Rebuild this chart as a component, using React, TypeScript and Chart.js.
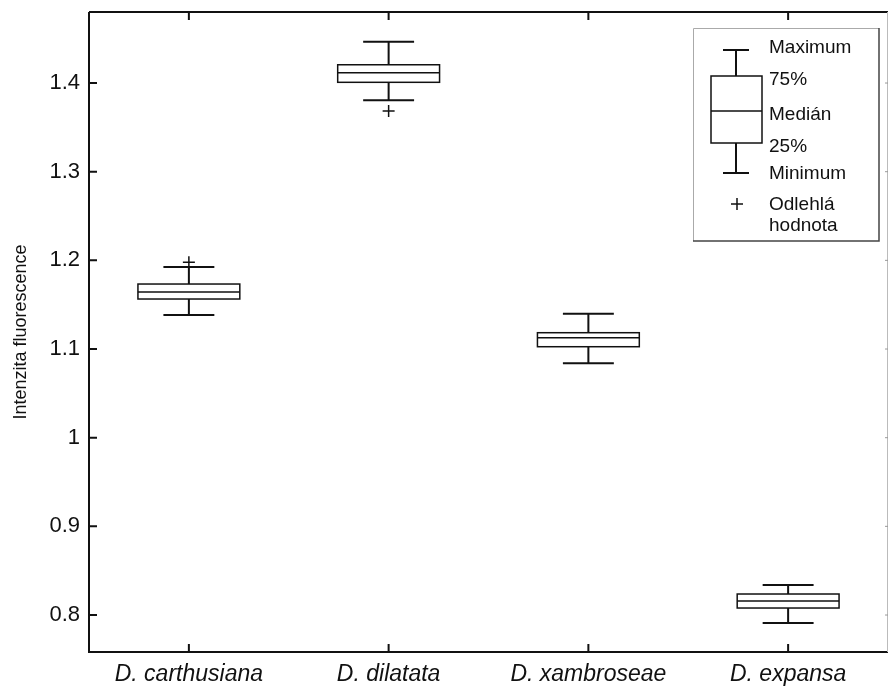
import { useEffect, useRef } from "react";
import { Chart, registerables } from "chart.js";

Chart.register(...registerables);

const categories = ["D. carthusiana", "D. dilatata", "D. xambroseae", "D. expansa"];
const whiskerMax = [1.1925, 1.4466, 1.1398, 0.8339];
const q3 = [1.1733, 1.4206, 1.1184, 0.8237];
const medians = [1.1643, 1.4116, 1.1128, 0.8158];
const q1 = [1.1564, 1.4008, 1.1026, 0.8079];
const whiskerMin = [1.1384, 1.3805, 1.0839, 0.791];
const outlierCategory = [1, 2];
const outlierValues = [1.198, 1.3684];
const yTickValues = [0.8, 0.9, 1.0, 1.1, 1.2, 1.3, 1.4];
const yTickLabels = ["0.8", "0.9", "1", "1.1", "1.2", "1.3", "1.4"];
const legendLabels = ["Maximum", "75%", "Medián", "25%", "Minimum", "Odlehlá", "hodnota"];
const yAxisTitle = "Intenzita fluorescence";

const FONT = "'Liberation Sans', Arial, Helvetica, sans-serif";
const INK = "#111";

const boxPlugin = {
  id: "boxes",
  beforeDatasetsDraw(chart: any) {
    const { ctx, scales } = chart;
    const x = scales.x;
    const y = scales.y;
    ctx.save();
    ctx.strokeStyle = INK;
    ctx.lineCap = "butt";
    categories.forEach((_, i) => {
      const v = i + 1;
      const cx = x.getPixelForValue(v);
      const bl = x.getPixelForValue(v - 0.255);
      const br = x.getPixelForValue(v + 0.255);
      const cl = x.getPixelForValue(v - 0.1275);
      const cr = x.getPixelForValue(v + 0.1275);
      const yMax = y.getPixelForValue(whiskerMax[i]);
      const yQ3 = y.getPixelForValue(q3[i]);
      const yMed = y.getPixelForValue(medians[i]);
      const yQ1 = y.getPixelForValue(q1[i]);
      const yMin = y.getPixelForValue(whiskerMin[i]);
      ctx.lineWidth = 2;
      ctx.beginPath();
      ctx.moveTo(cx, yMax);
      ctx.lineTo(cx, yQ3);
      ctx.moveTo(cx, yQ1);
      ctx.lineTo(cx, yMin);
      ctx.moveTo(cl, yMax);
      ctx.lineTo(cr, yMax);
      ctx.moveTo(cl, yMin);
      ctx.lineTo(cr, yMin);
      ctx.stroke();
      ctx.lineWidth = 1.5;
      ctx.fillStyle = "#fff";
      ctx.fillRect(bl, yQ3, br - bl, yQ1 - yQ3);
      ctx.strokeRect(bl, yQ3, br - bl, yQ1 - yQ3);
      ctx.beginPath();
      ctx.moveTo(bl, yMed);
      ctx.lineTo(br, yMed);
      ctx.stroke();
    });
    ctx.restore();
  },
  afterDraw(chart: any) {
    const { ctx, chartArea, scales } = chart;
    const { left, right, top, bottom } = chartArea;
    const x = scales.x;
    const y = scales.y;
    ctx.save();
    // frame
    ctx.strokeStyle = INK;
    ctx.lineWidth = 2;
    ctx.beginPath();
    ctx.moveTo(left, top);
    ctx.lineTo(left, bottom);
    ctx.lineTo(right, bottom);
    ctx.moveTo(left, top);
    ctx.lineTo(right, top);
    ctx.stroke();
    ctx.strokeStyle = "#bbb";
    ctx.lineWidth = 1;
    ctx.beginPath();
    ctx.moveTo(right - 0.5, top);
    ctx.lineTo(right - 0.5, bottom);
    ctx.stroke();
    // inward ticks
    ctx.strokeStyle = INK;
    ctx.lineWidth = 2;
    ctx.beginPath();
    y.ticks.forEach((t: any) => {
      const py = y.getPixelForValue(t.value);
      ctx.moveTo(left, py);
      ctx.lineTo(left + 8, py);
    });
    x.ticks.forEach((t: any) => {
      const px = x.getPixelForValue(t.value);
      ctx.moveTo(px, bottom);
      ctx.lineTo(px, bottom - 8);
      ctx.moveTo(px, top);
      ctx.lineTo(px, top + 8);
    });
    ctx.stroke();
    ctx.strokeStyle = "#999";
    ctx.lineWidth = 1;
    ctx.beginPath();
    y.ticks.forEach((t: any) => {
      const py = y.getPixelForValue(t.value);
      ctx.moveTo(right, py);
      ctx.lineTo(right - 3, py);
    });
    ctx.stroke();

    // legend
    const lx0 = 693, lx1 = 879, ly0 = 28, ly1 = 241;
    ctx.strokeStyle = "#aaa";
    ctx.lineWidth = 1;
    ctx.beginPath();
    ctx.moveTo(lx0 + 0.5, ly1);
    ctx.lineTo(lx0 + 0.5, ly0 + 0.5);
    ctx.lineTo(lx1, ly0 + 0.5);
    ctx.stroke();
    ctx.strokeStyle = "#444";
    ctx.lineWidth = 1.5;
    ctx.beginPath();
    ctx.moveTo(lx1, ly0);
    ctx.lineTo(lx1, ly1);
    ctx.lineTo(lx0, ly1);
    ctx.stroke();

    ctx.strokeStyle = INK;
    ctx.lineWidth = 2;
    ctx.beginPath();
    ctx.moveTo(736, 50);
    ctx.lineTo(736, 76);
    ctx.moveTo(736, 143);
    ctx.lineTo(736, 173);
    ctx.moveTo(723, 50);
    ctx.lineTo(749, 50);
    ctx.moveTo(723, 173);
    ctx.lineTo(749, 173);
    ctx.stroke();
    ctx.lineWidth = 1.5;
    ctx.strokeRect(711, 76, 51, 67);
    ctx.beginPath();
    ctx.moveTo(711, 111);
    ctx.lineTo(762, 111);
    // plus
    ctx.moveTo(731, 204);
    ctx.lineTo(743, 204);
    ctx.moveTo(737, 198);
    ctx.lineTo(737, 210);
    ctx.stroke();

    ctx.fillStyle = INK;
    ctx.font = `19px ${FONT}`;
    ctx.textAlign = "left";
    ctx.textBaseline = "middle";
    const ys = [48, 80, 115, 147, 174, 205, 226];
    legendLabels.forEach((s, i) => ctx.fillText(s, 769, ys[i]));
    ctx.restore();
  },
};

export default function App() {
  const ref = useRef<HTMLCanvasElement | null>(null);
  useEffect(() => {
    document.body.style.margin = "0";
    const canvas = ref.current;
    if (!canvas) return;
    const chart = new Chart(canvas, {
      type: "scatter",
      data: {
        datasets: [
          {
            label: "Odlehlá hodnota",
            data: outlierValues.map((v, i) => ({ x: outlierCategory[i], y: v })),
            pointStyle: "cross",
            radius: 6,
            borderColor: INK,
            backgroundColor: INK,
            borderWidth: 1.5,
          },
        ],
      },
      options: {
        animation: false,
        responsive: false,
        devicePixelRatio: 1,
        layout: { autoPadding: false, padding: { top: 12, right: 1, left: 0, bottom: 0 } },
        plugins: { legend: { display: false }, tooltip: { enabled: false } },
        scales: {
          x: {
            type: "linear",
            min: 0.5,
            max: 4.5,
            grid: { display: false, drawTicks: false },
            border: { display: false },
            afterBuildTicks: (s: any) => {
              s.ticks = categories.map((_, i) => ({ value: i + 1 }));
            },
            afterFit: (s: any) => {
              s.height = 39;
              s.paddingLeft = 0;
              s.paddingRight = 0;
            },
            ticks: {
              autoSkip: false,
              maxRotation: 0,
              padding: 9,
              color: INK,
              font: { family: FONT, size: 23, style: "italic" },
              callback: (v: any) => categories[Math.round(Number(v)) - 1] ?? "",
            },
          },
          y: {
            min: 0.7583,
            max: 1.4801,
            grid: { display: false, drawTicks: false },
            border: { display: false },
            afterBuildTicks: (s: any) => {
              s.ticks = yTickValues.map((v) => ({ value: v }));
            },
            afterFit: (s: any) => {
              s.width = 89;
              s.paddingTop = 0;
              s.paddingBottom = 0;
            },
            ticks: {
              padding: 9,
              color: INK,
              font: { family: FONT, size: 22 },
              callback: (v: any) => {
                const idx = yTickValues.findIndex((t) => Math.abs(t - Number(v)) < 1e-6);
                return idx >= 0 ? yTickLabels[idx] : "";
              },
            },
            title: {
              display: true,
              text: yAxisTitle,
              color: INK,
              font: { family: FONT, size: 18 },
              padding: { top: 10, bottom: 0 },
            },
          },
        },
      },
      plugins: [boxPlugin],
    } as any);
    return () => chart.destroy();
  }, []);
  return <canvas ref={ref} width={889} height={691} style={{ display: "block" }} />;
}
